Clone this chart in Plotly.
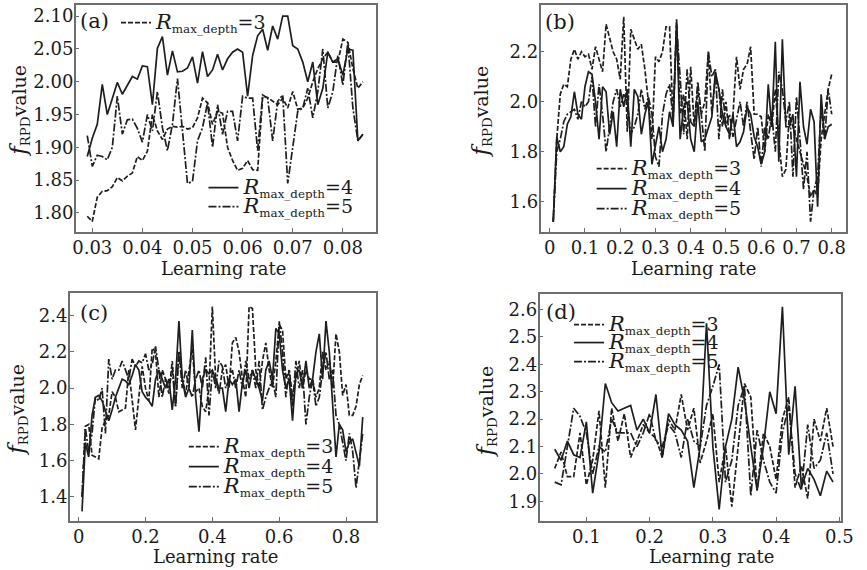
import plotly.graph_objects as go

# ---------------- data ----------------
# (a)
lr_a = [round(0.029 + 0.001 * i, 3) for i in range(56)]
a_d3 = [1.795, 1.787, 1.824, 1.833, 1.834, 1.840, 1.854, 1.849, 1.856, 1.861,
        1.886, 1.880, 1.894, 1.950, 1.925, 1.912, 1.928, 1.932, 1.931, 1.932,
        1.928, 1.930, 1.945, 1.975, 1.968, 1.935, 1.955, 1.952, 1.900, 1.880,
        1.865, 1.868, 1.880, 1.866, 1.865, 1.978, 1.976, 1.970, 1.965, 1.975,
        1.960, 1.985, 1.958, 1.960, 1.975, 2.000, 2.020, 2.035, 2.045, 2.030,
        2.030, 2.065, 2.060, 2.020, 1.990, 2.000]
a_d4 = [1.886, 1.914, 1.935, 1.996, 1.950, 1.975, 1.999, 1.981, 1.995, 2.008,
        2.004, 2.024, 2.023, 1.965, 2.051, 2.069, 2.010, 2.047, 2.015, 2.016,
        2.021, 2.038, 1.998, 2.046, 2.008, 2.018, 2.042, 2.018, 2.035, 2.045,
        2.050, 2.045, 1.978, 2.040, 2.070, 2.080, 2.048, 2.085, 2.065, 2.100,
        2.100, 2.055, 2.050, 2.030, 2.000, 2.030, 1.965, 1.990, 2.045, 2.030,
        2.035, 2.010, 2.050, 2.048, 1.910, 1.920]
a_d5 = [1.918, 1.871, 1.888, 1.886, 1.881, 1.900, 1.978, 1.920, 1.942, 1.943,
        1.929, 1.908, 1.950, 1.925, 1.985, 1.930, 1.895, 1.935, 2.005, 1.920,
        1.845, 1.848, 1.910, 1.930, 1.968, 1.900, 1.965, 1.920, 1.955, 1.955,
        1.910, 1.978, 1.975, 1.975, 1.895, 1.980, 1.975, 1.910, 1.970, 1.980,
        1.845, 1.900, 1.955, 1.960, 1.990, 1.945, 1.985, 2.050, 1.960, 1.985,
        2.040, 1.995, 2.060, 1.960, 1.910, 1.920]

# (b)
lr_b = [round(0.01 * (i + 1), 2) for i in range(80)]
b_d3 = [1.52, 1.85, 2.03, 2.07, 2.06, 2.17, 2.21, 2.17, 2.20, 2.18,
        2.19, 2.13, 2.22, 2.17, 2.12, 2.31, 2.25, 2.20, 2.17, 2.09,
        2.34, 1.88, 2.29, 2.25, 2.21, 2.23, 2.13, 2.00, 1.85, 2.18,
        2.16, 2.20, 2.30, 2.30, 1.92, 2.33, 1.95, 2.03, 1.85, 2.14,
        1.90, 2.05, 1.95, 2.00, 2.20, 1.95, 2.10, 2.05, 1.90, 2.00,
        1.85, 1.95, 2.18, 2.05, 2.13, 2.15, 2.22, 1.95, 1.95, 1.94,
        1.80, 1.95, 1.90, 2.05, 1.85, 1.70, 1.73, 1.95, 1.90, 1.85,
        1.80, 1.75, 1.70, 1.62, 1.65, 1.62, 1.85, 1.95, 2.05, 2.11]
b_d4 = [1.52, 1.86, 1.80, 1.82, 1.91, 1.94, 2.04, 1.95, 1.93, 2.06,
        2.12, 2.11, 2.00, 1.85, 2.06, 2.04, 1.87, 1.96, 1.82, 2.05,
        1.98, 2.05, 1.82, 2.05, 2.02, 1.87, 1.95, 2.00, 1.75, 1.82,
        1.90, 1.80, 1.85, 1.96, 1.90, 2.32, 1.85, 1.98, 2.00, 1.85,
        1.80, 2.00, 1.84, 1.85, 1.90, 1.94, 2.12, 2.05, 1.95, 1.90,
        1.87, 1.95, 1.82, 1.84, 1.88, 1.98, 1.95, 1.86, 1.82, 1.75,
        1.80, 2.07, 1.90, 2.24, 1.76, 2.25, 1.90, 1.90, 1.95, 1.70,
        2.08, 1.90, 1.83, 1.97, 1.92, 1.58, 2.03, 1.85, 1.90, 1.91]
b_d5 = [1.52, 1.80, 1.85, 1.92, 1.95, 1.96, 1.97, 1.93, 2.00, 1.98,
        2.00, 2.10, 1.90, 2.07, 1.95, 1.80, 1.90, 2.00, 2.05, 1.98,
        2.03, 2.00, 1.87, 1.90, 1.95, 2.05, 1.97, 2.02, 1.95, 1.78,
        1.74, 1.95, 2.03, 2.07, 1.93, 2.30, 2.10, 1.87, 2.13, 1.92,
        1.90, 2.08, 1.95, 1.80, 2.20, 2.10, 2.13, 1.85, 2.05, 1.90,
        1.95, 1.86, 1.93, 2.00, 1.90, 2.00, 1.88, 1.77, 1.90, 1.74,
        1.90, 1.85, 1.95, 1.80, 2.12, 2.05, 1.92, 2.00, 1.70, 2.02,
        1.85, 1.65, 1.80, 1.52, 1.65, 1.70, 1.98, 1.85, 2.05, 1.95]

# (c)
lr_c = [round(0.01 * (i + 1), 2) for i in range(85)]
c_d3 = [1.40, 1.79, 1.80, 1.63, 1.62, 1.61, 1.78, 1.82, 1.85, 1.98,
        1.95, 1.87, 1.88, 1.89, 2.10, 1.95, 1.77, 1.95, 2.12, 2.00,
        1.93, 2.22, 2.20, 1.95, 2.10, 2.05, 1.97, 2.15, 1.90, 2.20,
        2.05, 1.97, 2.10, 2.22, 1.98, 2.00, 1.90, 1.87, 2.00, 2.45,
        2.05, 1.97, 2.10, 2.13, 2.00, 2.25, 2.28, 2.20, 2.05, 1.95,
        2.45, 2.44, 2.10, 2.00, 2.15, 2.25, 2.10, 2.00, 2.15, 2.35,
        2.32, 2.05, 2.10, 1.95, 2.05, 2.15, 2.00, 2.10, 2.05, 2.05,
        1.95, 2.00, 2.20, 2.10, 2.15, 2.00, 2.30, 2.20, 1.96, 2.02,
        1.85, 1.85, 1.90, 2.02, 2.07]
c_d4 = [1.32, 1.70, 1.62, 1.85, 1.95, 1.96, 1.93, 1.88, 1.82, 1.88,
        1.95, 2.00, 2.05, 2.04, 2.02, 2.07, 2.13, 2.10, 1.98, 1.95,
        1.93, 1.90, 2.05, 2.10, 2.05, 2.00, 2.05, 1.88, 2.05, 2.37,
        2.05, 1.95, 2.00, 2.32, 1.95, 1.76, 2.05, 2.10, 2.08, 2.10,
        2.05, 2.00, 2.00, 1.87, 2.05, 2.02, 2.05, 1.87, 2.03, 2.10,
        2.00, 2.10, 2.05, 2.00, 1.93, 2.10, 2.15, 2.05, 2.33, 2.30,
        2.10, 2.00, 2.05, 1.82, 2.08, 2.10, 2.00, 2.15, 2.00, 2.05,
        2.20, 2.30, 2.05, 2.37, 2.20, 1.90, 1.62, 1.80, 1.77, 1.65,
        1.70, 1.72, 1.65, 1.57, 1.84]
c_d5 = [1.40, 1.78, 1.65, 1.75, 1.95, 1.93, 2.00, 1.75, 2.16, 2.05,
        2.10, 2.10, 2.15, 2.10, 2.05, 2.16, 2.12, 2.15, 2.14, 2.19,
        2.10, 2.13, 2.23, 2.10, 1.95, 2.05, 2.00, 2.10, 1.90, 2.20,
        2.00, 2.10, 2.00, 1.95, 2.05, 2.10, 2.00, 2.17, 1.85, 2.10,
        2.00, 2.15, 2.12, 2.00, 2.05, 2.10, 2.00, 2.10, 2.00, 2.15,
        2.05, 2.10, 2.00, 2.15, 1.88, 1.95, 2.00, 2.05, 1.95, 2.37,
        2.20, 1.95, 2.10, 1.90, 2.15, 2.00, 2.10, 1.80, 1.95, 2.05,
        1.90, 1.95, 2.10, 2.20, 2.05, 2.10, 1.85, 1.80, 1.70, 1.60,
        1.75, 1.65, 1.45, 1.60, 1.75]

# (d)
lr_d = [round(0.05 + 0.01 * i, 2) for i in range(45)]
d_d3 = [2.02, 2.08, 1.99, 1.99, 2.15, 1.96, 2.05, 2.23, 1.95, 2.24,
        2.12, 2.22, 2.06, 2.12, 2.18, 2.15, 2.13, 2.06, 2.20, 2.16,
        2.29, 2.16, 2.24, 2.04, 2.12, 2.22, 1.97, 2.10, 1.88, 2.10,
        2.33, 2.28, 1.94, 2.15, 2.10, 1.98, 2.20, 2.28, 1.95, 2.03,
        1.91, 2.20, 2.12, 2.24, 2.10]
d_d4 = [2.09, 2.05, 2.12, 2.07, 2.06, 2.19, 1.93, 2.08, 2.33, 2.26,
        2.23, 2.24, 2.25, 2.16, 2.20, 2.15, 2.29, 2.06, 2.22, 2.18,
        2.16, 2.12, 1.95, 2.10, 2.55, 2.10, 1.87, 2.10, 2.20, 2.39,
        2.27, 2.10, 1.94, 2.10, 2.30, 2.22, 2.61, 2.07, 2.32, 1.95,
        2.02, 1.98, 1.92, 2.01, 1.97]
d_d5 = [1.97, 1.96, 2.10, 2.24, 2.21, 2.15, 2.00, 2.10, 2.08, 2.20,
        2.15, 2.15, 2.15, 2.10, 2.15, 2.22, 2.12, 2.10, 2.18, 2.15,
        2.06, 2.20, 2.12, 2.10, 2.25, 2.32, 2.40, 1.97, 2.05, 2.25,
        2.32, 1.92, 2.16, 2.05, 1.97, 1.93, 2.15, 2.25, 2.00, 1.94,
        2.18, 2.02, 2.05, 2.15, 2.00]

depth_labels = ["3", "4", "5"]

# ---------------- style ----------------
W, H = 867, 570
FONT = "DejaVu Serif"
LINE_COL = "#1e1e1e"
TXT_COL = "#1a1a1a"
DASHES = ["5px,2px", "solid", "8px,2px,2px,2px"]

def px_x(p):
    return p / W

def px_y(p):
    return 1 - p / H

panels = [
    ("a", "x", "y", lr_a, [a_d3, a_d4, a_d5]),
    ("b", "x2", "y2", lr_b, [b_d3, b_d4, b_d5]),
    ("c", "x3", "y3", lr_c, [c_d3, c_d4, c_d5]),
    ("d", "x4", "y4", lr_d, [d_d3, d_d4, d_d5]),
]

# legend rows: (text start x, row centre y) in pixels, per panel and series
legend_rows = {
    "a": [(153, 21), (242, 186), (242, 205)],
    "b": [(637, 167), (637, 187), (637, 207)],
    "c": [(222, 445), (222, 465), (222, 485)],
    "d": [(614, 323), (614, 341), (614, 360)],
}

fig = go.Figure()
layout = dict(
    width=W, height=H, margin=dict(l=0, r=0, t=0, b=0),
    paper_bgcolor="white", plot_bgcolor="white",
    font=dict(family=FONT, size=18, color=TXT_COL),
)

leg_n = 0
for name, xa, ya, xs, series in panels:
    for k, ys in enumerate(series):
        leg_n += 1
        lkey = "legend" if leg_n == 1 else f"legend{leg_n}"
        fig.add_trace(go.Scatter(
            x=xs, y=ys, mode="lines", xaxis=xa, yaxis=ya,
            line=dict(color=LINE_COL, width=1.7, dash=DASHES[k]),
            name=("<span style='font-size:21px'><i>R</i></span><sub>max_depth</sub>"
                  "<span style='font-size:19px'>=" + depth_labels[k] + "</span>"),
            legend=lkey, showlegend=True,
        ))
        tx, ty = legend_rows[name][k]
        layout[lkey] = dict(
            bgcolor="rgba(0,0,0,0)", borderwidth=0,
            xanchor="left", yanchor="top",
            x=px_x(tx - 38), y=px_y(ty - 16),
            font=dict(family=FONT, size=17, color=TXT_COL),
            itemwidth=30,
        )

# frames (pixel boxes): left, right, top, bottom
boxes = {
    "a": (74, 380, 5, 232),
    "b": (547, 858, 5, 232),
    "c": (68, 380, 293, 521),
    "d": (546, 853, 294, 521),
}

axis_common = dict(
    showline=True, mirror=True, linecolor="#6e6e6e", linewidth=1.5,
    ticks="inside", ticklen=4, tickcolor="#6e6e6e", tickwidth=1,
    showgrid=False, zeroline=False,
    tickfont=dict(family=FONT, size=18, color=TXT_COL),
)

xcfg = {
    "a": dict(range=[0.0267, 0.0867], tick0=0.03, dtick=0.01, tickformat=".2f"),
    "b": dict(range=[-0.026, 0.841], tick0=0, dtick=0.1),
    "c": dict(range=[-0.0265, 0.891], tick0=0, dtick=0.2),
    "d": dict(range=[0.026, 0.503], tick0=0.1, dtick=0.1, tickformat=".1f"),
}
ycfg = {
    "a": dict(range=[1.771, 2.117], tick0=1.80, dtick=0.05, tickformat=".2f"),
    "b": dict(range=[1.479, 2.387], tick0=1.6, dtick=0.2, tickformat=".1f"),
    "c": dict(range=[1.267, 2.525], tick0=1.4, dtick=0.2, tickformat=".1f"),
    "d": dict(range=[1.828, 2.657], tick0=1.9, dtick=0.1, tickformat=".1f"),
}

for idx, (name, xa, ya, xs, series) in enumerate(panels):
    l, r, t, b = boxes[name]
    xkey = "xaxis" if idx == 0 else f"xaxis{idx + 1}"
    ykey = "yaxis" if idx == 0 else f"yaxis{idx + 1}"
    layout[xkey] = dict(axis_common, domain=[px_x(l), px_x(r)], anchor=ya,
                        ticklabelstandoff=-1, **xcfg[name])
    layout[ykey] = dict(axis_common, domain=[px_y(b), px_y(t)], anchor=xa,
                        ticklabelstandoff=-3, **ycfg[name])

fig.update_layout(**layout)

# axis titles and panel labels
ytitle = "<span style='font-size:23px'><i>f</i></span><sub>RPD</sub>value"
titles = [
    (16, 111, 224, 268, "(a)", 93, 21),
    (486, 112, 703, 268, "(b)", 567, 22),
    (14, 410, 216, 556, "(c)", 93, 313),
    (492, 411, 721, 556, "(d)", 568, 312),
]
for yx, yy, xx, xy, lab, lx, ly in titles:
    fig.add_annotation(xref="paper", yref="paper", x=px_x(yx), y=px_y(yy),
                       text=ytitle, textangle=-90, showarrow=False,
                       xanchor="center", yanchor="middle",
                       font=dict(family=FONT, size=19, color=TXT_COL))
    fig.add_annotation(xref="paper", yref="paper", x=px_x(xx), y=px_y(xy),
                       text="Learning rate", showarrow=False,
                       xanchor="center", yanchor="middle",
                       font=dict(family=FONT, size=18, color=TXT_COL))
    fig.add_annotation(xref="paper", yref="paper", x=px_x(lx), y=px_y(ly),
                       text=lab, showarrow=False,
                       xanchor="center", yanchor="middle",
                       font=dict(family=FONT, size=21, color=TXT_COL))

# the page's default 8px body margin would shift the fixed-size figure
fig.write_html("out.html", config={"displayModeBar": False},
               post_script="document.body.style.margin='0px';")
